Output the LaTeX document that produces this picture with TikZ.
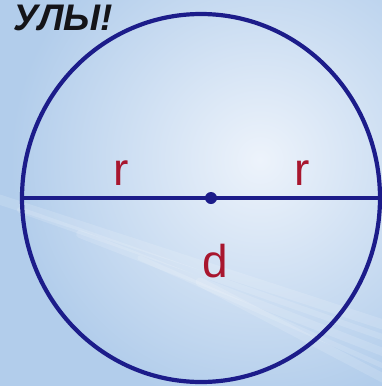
\documentclass[tikz,border=0pt]{standalone}
\usepackage{fontspec}
\setmainfont{Liberation Sans}
\usetikzlibrary{shapes.geometric}
\definecolor{bgblue}{HTML}{B2CDEB}
\definecolor{bglight}{HTML}{EDF3FB}
\definecolor{navy}{HTML}{1C1C8A}
\definecolor{lblred}{HTML}{A8162E}
\definecolor{ink}{HTML}{141418}
\tikzset{
  ring/.style={ellipse, draw=navy, line width=4.2pt, inner sep=0pt, outer sep=0pt},
  diam/.style={draw=navy, line width=4.5pt},
  centre/.style={circle, fill=navy, inner sep=0pt, minimum size=12pt},
  lbl/.style={text=lblred, font=\fontsize{46}{46}\selectfont, inner sep=0pt},
  streak/.style={white, line cap=round, opacity=0.14},
}
\begin{document}
\begin{tikzpicture}[x=1pt,y=-1pt]
\useasboundingbox (0,0) rectangle (382,386);
\begin{scope}
\clip (0,0) rectangle (382,386);
\fill[bgblue] (0,0) rectangle (382,386);
\shade[inner color=bglight, outer color=bgblue] (260,160) circle[radius=250];
\foreach \a/\w in {0/10, 50/6, 110/8, 170/5, 230/9}{
  \draw[streak, line width=\w pt] (-30+\a,190+\a*0.4) -- (400+\a*0.1,330+\a*0.3);
}
\node[anchor=base east, text=ink, font=\fontsize{37}{37}\selectfont\bfseries\itshape, inner sep=0pt] (title) at (113,30) {УЛЫ!};
\end{scope}
\node[ring, minimum width=358pt, minimum height=368pt] (c) at (201,198) {};
\draw[diam] (c.west) -- (c.east);
\node[centre] (o) at (211,198) {};
\node[lbl, anchor=base] (r1) at (121,185) {r};
\node[lbl, anchor=base] (r2) at (302,185) {r};
\node[lbl, anchor=base] (d) at (215,277) {d};
\end{tikzpicture}
\end{document}
